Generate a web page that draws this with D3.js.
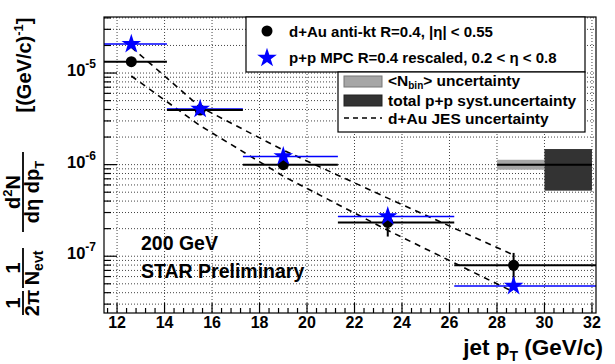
<!DOCTYPE html>
<html>
<head>
<meta charset="utf-8">
<script src="https://cdn.jsdelivr.net/npm/d3@7"></script>
<style>
  body { margin: 0; background: #fff; }
  svg { font-family: 'Liberation Sans', Arial, sans-serif; font-weight: bold; }
</style>
</head>
<body>
<svg width="615" height="364"></svg>
<script>
// bin centres and edges (GeV/c)
const binCenter = [12.6, 15.5, 19.0, 23.4, 28.7];
const binLo = [11.4, 14.1, 17.3, 21.3, 26.2];
const binHi = [14.1, 17.3, 21.3, 26.2, 33.0];

// d+Au anti-kt spectrum
const dAuValue = [1.33e-5, 3.94e-6, 1.0e-6, 2.34e-7, 7.97e-8];
const dAuErr = [0, 0, 0, 0.7e-7, 2.9e-8];

// p+p MPC rescaled
const ppValue = [2.07e-5, 4.05e-6, 1.23e-6, 2.72e-7, 4.73e-8];

// d+Au JES uncertainty band edges
const jesUp = [1.92e-5, 4.25e-6, 1.44e-6, 4.31e-7, 1.03e-7];
const jesLo = [9.28e-6, 2.66e-6, 7.48e-7, 1.92e-7, 4.07e-8];

// normalisation boxes: [x0, x1, y0, y1]
const nbinBox = [28, 30, 0.88e-6, 1.13e-6];
const ppSystBox = [30, 32, 0.52e-6, 1.48e-6];

const xTicks = [12, 14, 16, 18, 20, 22, 24, 26, 28, 30, 32];
const yDecades = [-5, -6, -7];

const svg = d3.select('svg');
const frame = { left: 104, right: 596, top: 17, bottom: 313 };

const x = d3.scaleLinear().domain([11.45, 32.17]).range([frame.left, frame.right]);
const y = d3.scaleLog().domain([2.4e-8, 4.09e-5]).range([frame.bottom, frame.top]);

const plot = svg.append('g');
svg.append('defs').append('clipPath').attr('id', 'clip')
  .append('rect')
    .attr('x', frame.left).attr('y', frame.top)
    .attr('width', frame.right - frame.left).attr('height', frame.bottom - frame.top);

// grid
const yGrid = [];
for (let e = -8; e <= -5; e += 1) {
  for (let k = 1; k < 10; k += 1) {
    const v = k * Math.pow(10, e);
    if (v > y.domain()[0] && v < y.domain()[1]) yGrid.push({ v, major: k === 1 });
  }
}
const xMinor = d3.range(11.6, 32.2, 0.4).filter(v => Math.abs(v / 2 - Math.round(v / 2)) > 0.01);

plot.append('g').selectAll('line')
  .data(yGrid)
  .enter().append('line')
    .attr('x1', frame.left).attr('x2', frame.right)
    .attr('y1', d => y(d.v)).attr('y2', d => y(d.v))
    .attr('stroke', '#444').attr('stroke-width', 1)
    .attr('stroke-dasharray', '1,2');

plot.append('g').selectAll('line')
  .data(xTicks)
  .enter().append('line')
    .attr('x1', d => x(d)).attr('x2', d => x(d))
    .attr('y1', frame.top).attr('y2', frame.bottom)
    .attr('stroke', '#444').attr('stroke-width', 1)
    .attr('stroke-dasharray', '1,2');

// ticks (inside)
plot.append('g').selectAll('line')
  .data(yGrid)
  .enter().append('line')
    .attr('x1', frame.left).attr('x2', d => frame.left + (d.major ? 13 : 7))
    .attr('y1', d => y(d.v)).attr('y2', d => y(d.v))
    .attr('stroke', '#000').attr('stroke-width', 1.2);

plot.append('g').selectAll('line')
  .data(xTicks.map(v => ({ v, major: true })).concat(xMinor.map(v => ({ v, major: false }))))
  .enter().append('line')
    .attr('x1', d => x(d.v)).attr('x2', d => x(d.v))
    .attr('y1', frame.bottom).attr('y2', d => frame.bottom - (d.major ? 10 : 5))
    .attr('stroke', '#000').attr('stroke-width', 1.2);

// normalisation boxes
const boxes = plot.append('g');
boxes.append('rect')
  .attr('x', x(nbinBox[0])).attr('width', x(nbinBox[1]) - x(nbinBox[0]))
  .attr('y', y(nbinBox[3])).attr('height', y(nbinBox[2]) - y(nbinBox[3]))
  .attr('fill', '#a6a6a6');
boxes.append('rect')
  .attr('x', x(ppSystBox[0])).attr('width', x(ppSystBox[1]) - x(ppSystBox[0]))
  .attr('y', y(ppSystBox[3])).attr('height', y(ppSystBox[2]) - y(ppSystBox[3]))
  .attr('fill', '#333');
boxes.append('line')
  .attr('x1', x(nbinBox[0])).attr('x2', x(ppSystBox[1]))
  .attr('y1', y(1e-6)).attr('y2', y(1e-6))
  .attr('stroke', '#000').attr('stroke-width', 2);

// JES dashed lines
const jesLine = d3.line().x((d, i) => x(binCenter[i])).y(d => y(d));
[jesUp, jesLo].forEach((arr) => {
  plot.append('path')
    .attr('d', jesLine(arr))
    .attr('fill', 'none')
    .attr('stroke', '#000').attr('stroke-width', 1.6)
    .attr('stroke-dasharray', '6,5');
});

const data = binCenter.map((c, i) => ({
  c, lo: binLo[i], hi: binHi[i], dAu: dAuValue[i], err: dAuErr[i], pp: ppValue[i]
}));

const marks = plot.append('g').attr('clip-path', 'url(#clip)');

// p+p horizontal bars
marks.selectAll('.ppbar')
  .data(data)
  .enter().append('line')
    .attr('class', 'ppbar')
    .attr('x1', d => x(d.lo)).attr('x2', d => x(d.hi))
    .attr('y1', d => y(d.pp)).attr('y2', d => y(d.pp))
    .attr('stroke', '#0000ff').attr('stroke-width', 1.5);

// d+Au bars
marks.selectAll('.dbar')
  .data(data)
  .enter().append('line')
    .attr('class', 'dbar')
    .attr('x1', d => x(d.lo)).attr('x2', d => x(d.hi))
    .attr('y1', d => y(d.dAu)).attr('y2', d => y(d.dAu))
    .attr('stroke', '#000').attr('stroke-width', 2);

marks.selectAll('.dvbar')
  .data(data.filter(d => d.err > 0))
  .enter().append('line')
    .attr('class', 'dvbar')
    .attr('x1', d => x(d.c)).attr('x2', d => x(d.c))
    .attr('y1', d => y(d.dAu + d.err)).attr('y2', d => y(d.dAu - d.err))
    .attr('stroke', '#000').attr('stroke-width', 2);

marks.selectAll('circle')
  .data(data)
  .enter().append('circle')
    .attr('cx', d => x(d.c)).attr('cy', d => y(d.dAu))
    .attr('r', 5.5).attr('fill', '#000');

const star = d3.symbol().type(d3.symbolStar).size(120);
marks.selectAll('.star')
  .data(data)
  .enter().append('path')
    .attr('class', 'star')
    .attr('transform', d => `translate(${x(d.c)},${y(d.pp)})`)
    .attr('d', star)
    .attr('fill', '#0000ff');

// frame
svg.append('rect')
  .attr('x', frame.left).attr('y', frame.top)
  .attr('width', frame.right - frame.left).attr('height', frame.bottom - frame.top)
  .attr('fill', 'none').attr('stroke', '#000').attr('stroke-width', 1.2);

// axis labels
svg.append('g').selectAll('text')
  .data(xTicks)
  .enter().append('text')
    .attr('x', d => x(d)).attr('y', frame.bottom + 15)
    .attr('text-anchor', 'middle').attr('font-size', 16)
    .text(d => d);

const yl = svg.append('g').selectAll('text')
  .data(yDecades)
  .enter().append('text')
    .attr('x', 96).attr('y', d => y(Math.pow(10, d)) + 3)
    .attr('text-anchor', 'end').attr('font-size', 16.5);
yl.append('tspan').text('10');
yl.append('tspan').attr('dy', -8).attr('font-size', 12).text(d => d);

const xt = svg.append('text')
  .attr('x', 603).attr('y', 355)
  .attr('text-anchor', 'end').attr('font-size', 22.5);
xt.append('tspan').text('jet p');
xt.append('tspan').attr('dy', 6).attr('font-size', 14).text('T');
xt.append('tspan').attr('dy', -6).text(' (GeV/c)');

// y title (rotated)
const yt = svg.append('g').attr('transform', 'rotate(-90)').attr('font-size', 20);
function frac(cy, w, num, den) {
  yt.append('line').attr('x1', -cy - w / 2).attr('x2', -cy + w / 2)
    .attr('y1', 23).attr('y2', 23).attr('stroke', '#000').attr('stroke-width', 1.8);
  const n = yt.append('text').attr('x', -cy).attr('y', 20).attr('text-anchor', 'middle');
  num(n);
  const d = yt.append('text').attr('x', -cy).attr('y', 39).attr('text-anchor', 'middle');
  den(d);
}
frac(303, 24, t => t.text('1'), t => t.text('2π'));
frac(268, 40, t => t.text('1'), (t) => {
  t.append('tspan').text('N');
  t.append('tspan').attr('dy', 4).attr('font-size', 14).text('evt');
});
frac(192, 80, (t) => {
  t.append('tspan').text('d');
  t.append('tspan').attr('dy', -8).attr('font-size', 13).text('2');
  t.append('tspan').attr('dy', 8).text('N');
}, (t) => {
  t.append('tspan').text('dη dp');
  t.append('tspan').attr('dy', 5).attr('font-size', 13).text('T');
});
const unit = yt.append('text').attr('x', -65).attr('y', 31).attr('text-anchor', 'middle');
unit.append('tspan').text('[(GeV/c)');
unit.append('tspan').attr('dy', -8).attr('font-size', 13).text('-1');
unit.append('tspan').attr('dy', 8).text(']');

// annotations
svg.append('text').attr('x', 141).attr('y', 250).attr('font-size', 19.5).text('200 GeV');
svg.append('text').attr('x', 141).attr('y', 278).attr('font-size', 19.5).text('STAR Preliminary');

// legend 1
const leg1 = svg.append('g');
leg1.append('rect').attr('x', 246).attr('y', frame.top).attr('width', 339).attr('height', 55)
  .attr('fill', '#fff').attr('stroke', '#000').attr('stroke-width', 1.2);
leg1.append('circle').attr('cx', 267).attr('cy', 31).attr('r', 5.5).attr('fill', '#000');
leg1.append('path').attr('transform', 'translate(267,58)').attr('d', star).attr('fill', '#0000ff');
leg1.append('text').attr('x', 289).attr('y', 37).attr('font-size', 15)
  .text('d+Au anti-kt R=0.4, |η|  <  0.55');
leg1.append('text').attr('x', 289).attr('y', 63).attr('font-size', 15)
  .text('p+p MPC R=0.4 rescaled, 0.2 < η < 0.8');

// legend 2
const leg2 = svg.append('g');
leg2.append('rect').attr('x', 338).attr('y', 72).attr('width', 247).attr('height', 60)
  .attr('fill', '#fff').attr('stroke', '#000').attr('stroke-width', 1.2);
leg2.append('rect').attr('x', 344).attr('y', 76).attr('width', 38).attr('height', 11)
  .attr('fill', '#a6a6a6').attr('stroke', '#777');
leg2.append('rect').attr('x', 344).attr('y', 95).attr('width', 38).attr('height', 11)
  .attr('fill', '#333').attr('stroke', '#222');
leg2.append('line').attr('x1', 344).attr('x2', 382).attr('y1', 118).attr('y2', 118)
  .attr('stroke', '#000').attr('stroke-width', 1.6).attr('stroke-dasharray', '5,4');
const t1 = leg2.append('text').attr('x', 388).attr('y', 86).attr('font-size', 15.5);
t1.append('tspan').text('<N');
t1.append('tspan').attr('dy', 3).attr('font-size', 10).text('bin');
t1.append('tspan').attr('dy', -3).text('> uncertainty');
leg2.append('text').attr('x', 388).attr('y', 106).attr('font-size', 15.5).text('total p+p syst.uncertainty');
leg2.append('text').attr('x', 388).attr('y', 124).attr('font-size', 15.5).text('d+Au JES uncertainty');
</script>
</body>
</html>
